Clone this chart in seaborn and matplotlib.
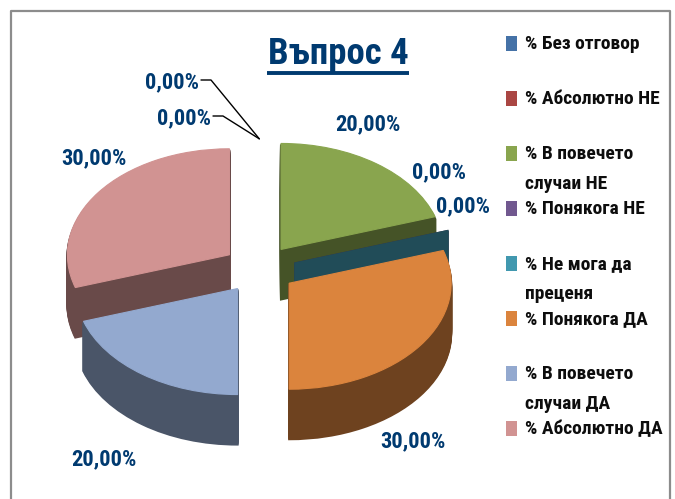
import math
import matplotlib
matplotlib.use('Agg')
import matplotlib.pyplot as plt
import seaborn as sns
from matplotlib.patches import Rectangle

categories = ['% Без отговор', '% Абсолютно НЕ', '% В повечето\nслучаи НЕ', '% Понякога НЕ',
              '% Не мога да\nпреценя', '% Понякога ДА', '% В повечето\nслучаи ДА', '% Абсолютно ДА']
values = [0, 0, 20, 0, 0, 30, 20, 30]
value_labels = ['0,00%', '0,00%', '20,00%', '0,00%', '0,00%', '30,00%', '20,00%', '30,00%']
colors = ['#4572A7', '#AA4643', '#89A54E', '#71588F', '#4198AF', '#DB843D', '#93A9CF', '#D19392']
title = 'Въпрос 4'

# pixel layout of the picture
W, H = 675, 499
CX, CY, RX, RY = 259.3, 269, 162, 106
DEPTH = 50
EXPLODE = 0.228
LABEL_POS = [(172, 82), (184, 118), (368, 124), (439, 172), (463, 206), (413, 441), (104, 459), (94, 158)]
DRAW_ORDER = [0, 1, 3, 4, 5, 6, 7, 2]

sns.set_theme(style='white')
plt.rcParams['font.family'] = ['Roboto Condensed', 'Open Sans', 'DejaVu Sans']
plt.rcParams['font.weight'] = 'bold'
palette = sns.color_palette(colors)
shade = [tuple(c * 0.5 for c in rgb) for rgb in palette]


def edge_on(w):
    # an empty slice at 12 o'clock shows no face at all
    return w.theta1 == w.theta2 and abs(math.cos(math.radians(w.theta1))) < 1e-6


fig = plt.figure(figsize=(W / 100, H / 100), dpi=100)
fig.patch.set_facecolor('white')
ax = fig.add_axes([0, 0, 1, 1])
explode = [EXPLODE] * len(values)

# side walls: the pie repeated downwards, one pixel at a time
for d in range(2, DEPTH + 1):
    wedges, _ = ax.pie(values, explode=explode, colors=shade, startangle=90, counterclock=False,
                       center=(0, -d / RY), wedgeprops={'linewidth': 1.5})
    for i, w in enumerate(wedges):
        w.set_edgecolor(shade[i])
        w.set_zorder(DRAW_ORDER[i] * 2 + 1)
        if edge_on(w):
            w.set_visible(False)

wedges, _ = ax.pie(values, explode=explode, colors=palette, startangle=90, counterclock=False,
                   wedgeprops={'linewidth': 0.8})
for i, w in enumerate(wedges):
    w.set_edgecolor(palette[i])
    w.set_zorder(DRAW_ORDER[i] * 2 + 2)
    if values[i] == 0:
        w.set_visible(False)

ax.set_aspect('auto')
ax.set_xlim(-CX / RX, (W - CX) / RX)
ax.set_ylim(-(H - CY) / RY, CY / RY)
ax.axis('off')

# everything else in picture pixels
ov = fig.add_axes([0, 0, 1, 1])
ov.set_xlim(0, W)
ov.set_ylim(H, 0)
ov.axis('off')
ov.patch.set_alpha(0)

ov.plot([10.5, 10.5, 669.5, 669.5], [H, 10.5, 10.5, H], color='#8C8C8C', lw=1.6)

ov.text(338, 54, title, fontsize=26.5, color='#003A70', ha='center', va='center')
ov.plot([267, 409], [73, 73], color='#003A70', lw=2.8, solid_capstyle='butt')

for (x, y), s in zip(LABEL_POS, value_labels):
    ov.text(x, y, s, fontsize=16.2, color='#003A70', ha='center', va='center')

tip = (CX, CY - RY * (1 + EXPLODE))
ov.plot([201, 211, tip[0]], [80, 80, tip[1]], color='black', lw=1)
ov.plot([213, 223, tip[0]], [116, 116, tip[1]], color='black', lw=1)

for i, label in enumerate(categories):
    y = 43 + 55 * i
    ov.add_patch(Rectangle((506, y - 7.5), 11, 15, facecolor=colors[i], edgecolor='none'))
    for j, line in enumerate(label.split('\n')):
        ov.text(525, y + 1 + 30 * j, line, fontsize=14, color='#0D0D0D', ha='left', va='center')

fig.savefig('out.png', dpi=100)
